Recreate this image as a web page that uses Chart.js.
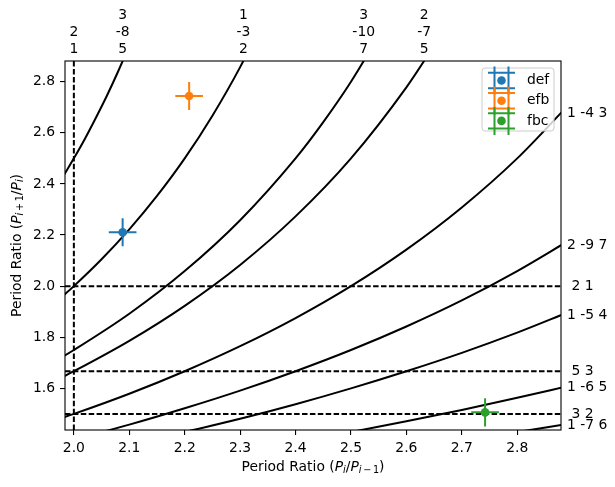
<!DOCTYPE html>
<html>
<head>
<meta charset="utf-8">
<script src="https://cdn.jsdelivr.net/npm/chart.js@4/dist/chart.umd.min.js"></script>
<style>
  html, body { margin: 0; padding: 0; background: #fff; }
  #wrap { width: 615px; height: 487px; }
</style>
</head>
<body>
<div id="wrap"><canvas id="chart" width="615" height="487"></canvas></div>
<script>
// axis limits and ticks
const xLim = [1.984, 2.879];
const yLim = [1.437, 2.881];
const xTicks = [2.0, 2.1, 2.2, 2.3, 2.4, 2.5, 2.6, 2.7, 2.8];
const yTicks = [1.6, 1.8, 2.0, 2.2, 2.4, 2.6, 2.8];

// three-body resonance curves [x, y]
const curve_3_8_5 = [[1.97, 2.392], [1.98, 2.427], [2.00, 2.5], [2.02, 2.577], [2.04, 2.66], [2.06, 2.747], [2.08, 2.841], [2.10, 2.941]];
const curve_1_3_2 = [[1.97, 1.942], [2.0, 2.0], [2.05, 2.105], [2.1, 2.222], [2.15, 2.353], [2.2, 2.5], [2.25, 2.667], [2.3, 2.857], [2.35, 3.077]];
const curve_3_10_7 = [[1.97, 1.711], [2.0, 1.75], [2.1, 1.892], [2.2, 2.059], [2.3, 2.258], [2.4, 2.5], [2.45, 2.642], [2.5, 2.8], [2.55, 2.979]];
const curve_2_7_5 = [[1.97, 1.634], [2.0, 1.667], [2.1, 1.786], [2.2, 1.923], [2.3, 2.083], [2.4, 2.273], [2.5, 2.5], [2.6, 2.778], [2.65, 2.941]];
const curve_1_4_3 = [[1.97, 1.478], [2.0, 1.5], [2.1, 1.579], [2.2, 1.667], [2.3, 1.765], [2.4, 1.875], [2.5, 2.0], [2.6, 2.143], [2.7, 2.308], [2.8, 2.5], [2.89, 2.703]];
const curve_2_9_7 = [[2.0, 1.4], [2.1, 1.458], [2.2, 1.522], [2.3, 1.591], [2.4, 1.667], [2.5, 1.75], [2.6, 1.842], [2.7, 1.944], [2.8, 2.059], [2.89, 2.174]];
const curve_1_5_4 = [[2.1, 1.379], [2.2, 1.429], [2.3, 1.481], [2.4, 1.538], [2.5, 1.6], [2.6, 1.667], [2.7, 1.739], [2.8, 1.818], [2.89, 1.896]];
const curve_1_6_5 = [[2.4, 1.389], [2.5, 1.429], [2.6, 1.471], [2.7, 1.515], [2.8, 1.563], [2.89, 1.608]];
const curve_1_7_6 = [[2.7, 1.395], [2.8, 1.429], [2.89, 1.460]];

// two-body resonances (dashed)
const resX = [2.0];
const resY = [2.0, 5 / 3, 1.5];

// labels above the plot
const topLabelX = [2.0, 2.088, 2.306, 2.523, 2.632];
const topLabelText = [['2', '1'], ['3', '-8', '5'], ['1', '-3', '2'], ['3', '-10', '7'], ['2', '-7', '5']];

// labels right of the plot
const rightLabelY = [2.676, 2.160, 2.0, 1.887, 1.667, 1.603, 1.5, 1.456];
const rightLabelText = ['1 -4 3', '2 -9 7', ' 2 1', '1 -5 4', ' 5 3', '1 -6 5', ' 3 2', '1 -7 6'];

// observed systems
const names = ['def', 'efb', 'fbc'];
const colors = ['#1f77b4', '#ff7f0e', '#2ca02c'];
const ptX = [2.088, 2.208, 2.742];
const ptY = [2.211, 2.744, 1.506];
const errX = [0.025, 0.025, 0.025];
const errY = [0.055, 0.055, 0.055];

const FONT = '"DejaVu Sans", sans-serif';
const FS = 13.9;

function toPts(arr) { return arr.map(p => ({ x: p[0], y: p[1] })); }

const datasets = [];
// points first (drawn on top)
names.forEach((n, i) => {
  datasets.push({
    label: n,
    data: [{ x: ptX[i], y: ptY[i] }],
    errX: errX[i], errY: errY[i],
    showLine: false,
    pointRadius: 4.3,
    pointHoverRadius: 4.3,
    pointBorderWidth: 0,
    backgroundColor: colors[i],
    borderColor: colors[i],
    order: 0
  });
});
[curve_3_8_5, curve_1_3_2, curve_3_10_7, curve_2_7_5, curve_1_4_3, curve_2_9_7, curve_1_5_4, curve_1_6_5, curve_1_7_6].forEach(c => {
  datasets.push({
    data: toPts(c),
    showLine: true,
    cubicInterpolationMode: 'monotone',
    pointRadius: 0,
    borderColor: '#000',
    borderWidth: 2,
    order: 2
  });
});
resX.forEach(v => {
  datasets.push({
    data: [{ x: v, y: yLim[0] }, { x: v, y: yLim[1] }],
    showLine: true, pointRadius: 0, borderColor: '#000', borderWidth: 2,
    borderDash: [5.5, 2.4], order: 1
  });
});
resY.forEach(v => {
  datasets.push({
    data: [{ x: xLim[0], y: v }, { x: xLim[1], y: v }],
    showLine: true, pointRadius: 0, borderColor: '#000', borderWidth: 2,
    borderDash: [5.5, 2.4], order: 1
  });
});

// draw mixed text (math-like) centred at cx, cy
function drawRuns(ctx, runs, cx, cy) {
  let w = 0;
  runs.forEach(r => {
    ctx.font = (r.it ? 'italic ' : '') + (r.sub ? FS * 0.7 : FS) + 'px ' + FONT;
    r.w = ctx.measureText(r.t).width + (r.gap || 0) * 2;
    w += r.w;
  });
  let x = cx - w / 2;
  ctx.textAlign = 'left';
  ctx.textBaseline = 'middle';
  runs.forEach(r => {
    ctx.font = (r.it ? 'italic ' : '') + (r.sub ? FS * 0.7 : FS) + 'px ' + FONT;
    ctx.fillText(r.t, x + (r.gap || 0), cy + (r.sub ? 3.5 : 0));
    x += r.w;
  });
}

const decor = {
  id: 'decor',
  beforeDatasetDraw(chart, args) {
    const ds = chart.data.datasets[args.index];
    if (ds.errX === undefined) return;
    const ctx = chart.ctx, xs = chart.scales.x, ys = chart.scales.y;
    const p = ds.data[0];
    ctx.save();
    ctx.strokeStyle = ds.borderColor;
    ctx.lineWidth = 2;
    ctx.beginPath();
    ctx.moveTo(xs.getPixelForValue(p.x - ds.errX), ys.getPixelForValue(p.y));
    ctx.lineTo(xs.getPixelForValue(p.x + ds.errX), ys.getPixelForValue(p.y));
    ctx.moveTo(xs.getPixelForValue(p.x), ys.getPixelForValue(p.y - ds.errY));
    ctx.lineTo(xs.getPixelForValue(p.x), ys.getPixelForValue(p.y + ds.errY));
    ctx.stroke();
    ctx.restore();
  },
  afterDraw(chart) {
    const ctx = chart.ctx, a = chart.chartArea;
    const xs = chart.scales.x, ys = chart.scales.y;
    ctx.save();
    // frame
    ctx.strokeStyle = '#000';
    ctx.lineWidth = 1.1;
    ctx.strokeRect(a.left, a.top, a.right - a.left, a.bottom - a.top);

    ctx.fillStyle = '#000';
    ctx.font = FS + 'px ' + FONT;
    // top labels
    ctx.textAlign = 'center';
    ctx.textBaseline = 'middle';
    topLabelX.forEach((v, i) => {
      const lines = topLabelText[i];
      const px = xs.getPixelForValue(v);
      lines.forEach((t, j) => {
        ctx.fillText(t, px, a.top - 12 - (lines.length - 1 - j) * 16.7);
      });
    });
    // right labels
    ctx.textAlign = 'left';
    rightLabelY.forEach((v, i) => {
      ctx.fillText(rightLabelText[i], a.right + 6, ys.getPixelForValue(v));
    });

    // legend
    const bx = a.right - 79, by = a.top + 7, bw = 72, bh = 63, r = 3;
    ctx.beginPath();
    ctx.moveTo(bx + r, by);
    ctx.lineTo(bx + bw - r, by);
    ctx.arcTo(bx + bw, by, bx + bw, by + r, r);
    ctx.lineTo(bx + bw, by + bh - r);
    ctx.arcTo(bx + bw, by + bh, bx + bw - r, by + bh, r);
    ctx.lineTo(bx + r, by + bh);
    ctx.arcTo(bx, by + bh, bx, by + bh - r, r);
    ctx.lineTo(bx, by + r);
    ctx.arcTo(bx, by, bx + r, by, r);
    ctx.closePath();
    ctx.fillStyle = 'rgba(255,255,255,0.8)';
    ctx.fill();
    ctx.strokeStyle = '#cccccc';
    ctx.lineWidth = 1;
    ctx.stroke();
    names.forEach((n, i) => {
      const cx = bx + 19.5, cy = by + 12.5 + i * 20.2;
      ctx.strokeStyle = colors[i];
      ctx.lineWidth = 2;
      ctx.beginPath();
      ctx.moveTo(cx - 7, cy - 14); ctx.lineTo(cx - 7, cy + 14);
      ctx.moveTo(cx + 7, cy - 14); ctx.lineTo(cx + 7, cy + 14);
      ctx.moveTo(cx - 13.5, cy - 7.7); ctx.lineTo(cx + 13.5, cy - 7.7);
      ctx.moveTo(cx - 13.5, cy + 7.7); ctx.lineTo(cx + 13.5, cy + 7.7);
      ctx.stroke();
      ctx.fillStyle = colors[i];
      ctx.beginPath();
      ctx.arc(cx, cy, 4.3, 0, Math.PI * 2);
      ctx.fill();
    });
    ctx.fillStyle = '#000';
    ctx.font = FS + 'px ' + FONT;
    ctx.textAlign = 'left';
    ctx.textBaseline = 'middle';
    names.forEach((n, i) => {
      ctx.fillText(n, bx + 45, by + 12.5 + i * 20.2);
    });

    // axis titles
    drawRuns(ctx, [
      { t: 'Period Ratio (' }, { t: 'P', it: true }, { t: 'i', it: true, sub: true },
      { t: '/' }, { t: 'P', it: true }, { t: 'i', it: true, sub: true }, { t: '\u2212', sub: true, gap: 1.6 },
      { t: '1', sub: true }, { t: ')' }
    ], (a.left + a.right) / 2, 467);
    ctx.save();
    ctx.translate(17, (a.top + a.bottom) / 2);
    ctx.rotate(-Math.PI / 2);
    drawRuns(ctx, [
      { t: 'Period Ratio (' }, { t: 'P', it: true }, { t: 'i', it: true, sub: true },
      { t: '+', sub: true, gap: 1.6 }, { t: '1', sub: true },
      { t: '/' }, { t: 'P', it: true }, { t: 'i', it: true, sub: true }, { t: ')' }
    ], 0, 0);
    ctx.restore();
    ctx.restore();
  }
};

const axisCommon = {
  type: 'linear',
  ticks: {
    color: '#000',
    font: { family: FONT, size: FS },
    padding: 5,
    maxRotation: 0,
    autoSkip: false,
    callback: v => Number(v).toFixed(1)
  },
  grid: { drawOnChartArea: false, drawTicks: true, tickLength: 5, color: '#000', lineWidth: 1.1 },
  border: { display: false }
};

new Chart(document.getElementById('chart'), {
  type: 'scatter',
  data: { datasets: datasets },
  options: {
    responsive: false,
    animation: false,
    events: [],
    layout: { padding: { left: 0, top: 61, right: 54, bottom: 0 } },
    plugins: { legend: { display: false }, tooltip: { enabled: false } },
    scales: {
      x: Object.assign({}, axisCommon, {
        min: xLim[0], max: xLim[1],
        afterBuildTicks: s => { s.ticks = xTicks.map(v => ({ value: v })); },
        afterFit: s => { s.height = 57; }
      }),
      y: Object.assign({}, axisCommon, {
        min: yLim[0], max: yLim[1],
        afterBuildTicks: s => { s.ticks = yTicks.map(v => ({ value: v })); },
        afterFit: s => { s.width = 65; }
      })
    }
  },
  plugins: [decor]
});
</script>
</body>
</html>
